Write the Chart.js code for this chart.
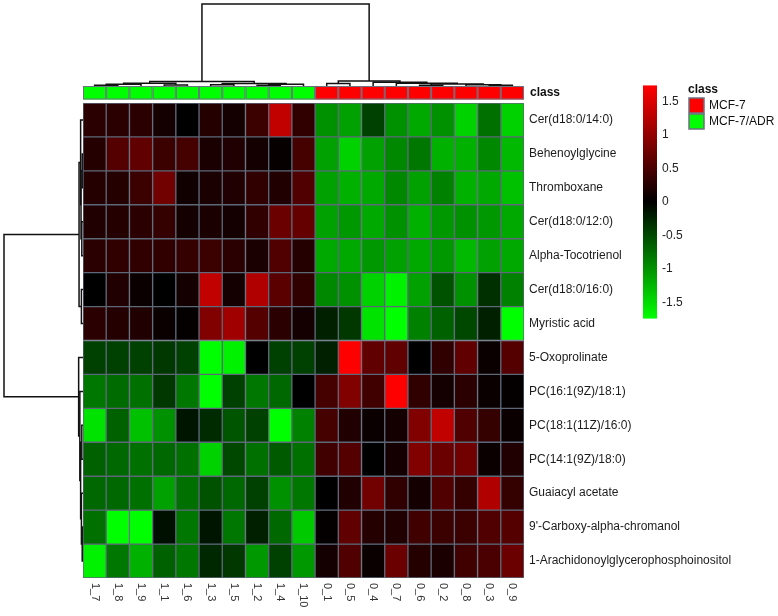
<!DOCTYPE html>
<html>
<head>
<meta charset="utf-8">
<script src="https://cdn.jsdelivr.net/npm/chart.js@4.4.0/dist/chart.umd.min.js"></script>
<style>
  html, body { margin: 0; padding: 0; background: #fff; }
  canvas { display: block; }
</style>
</head>
<body>
<canvas id="heatmap" width="778" height="616"></canvas>
<script>
// Samples (column order after clustering)
const SAMPLES = ['1_7', '1_8', '1_9', '1_1', '1_6', '1_3', '1_5', '1_2', '1_4', '1_10',
                 '0_1', '0_5', '0_4', '0_7', '0_6', '0_2', '0_8', '0_3', '0_9'];
const SAMPLE_CLASS = ['MCF-7/ADR', 'MCF-7/ADR', 'MCF-7/ADR', 'MCF-7/ADR', 'MCF-7/ADR',
                      'MCF-7/ADR', 'MCF-7/ADR', 'MCF-7/ADR', 'MCF-7/ADR', 'MCF-7/ADR',
                      'MCF-7', 'MCF-7', 'MCF-7', 'MCF-7', 'MCF-7', 'MCF-7', 'MCF-7', 'MCF-7', 'MCF-7'];
const CLASSES = ['MCF-7', 'MCF-7/ADR'];

// Metabolites (row order after clustering)
const METABOLITES = ['Cer(d18:0/14:0)', 'Behenoylglycine', 'Thromboxane', 'Cer(d18:0/12:0)',
  'Alpha-Tocotrienol', 'Cer(d18:0/16:0)', 'Myristic acid', '5-Oxoprolinate',
  'PC(16:1(9Z)/18:1)', 'PC(18:1(11Z)/16:0)', 'PC(14:1(9Z)/18:0)', 'Guaiacyl acetate',
  "9'-Carboxy-alpha-chromanol", '1-Arachidonoylglycerophosphoinositol'];

// scaled values per metabolite, one entry per sample
const cer14   = [0.29, 0.29, 0.29, 0.14, 0, 0.25, 0.14, 0.40, 1.32, 0.33, -0.99, -1.10, -0.44, -0.99, -1.15, -0.99, -1.43, -0.77, -1.43];
const behenoy = [0.25, 0.58, 0.66, 0.40, 0.47, 0.18, 0.22, 0.14, 0.05, 0.47, -1.10, -1.43, -1.10, -0.93, -0.82, -1.21, -1.21, -0.93, -1.26];
const thrombo = [0.25, 0.25, 0.40, 0.77, 0.11, 0.18, 0.22, 0.33, 0.22, 0.55, -1.10, -1.21, -1.15, -0.93, -1.10, -0.88, -1.21, -1.15, -1.32];
const cer12   = [0.22, 0.25, 0.29, 0.36, 0.14, 0.18, 0.14, 0.33, 0.73, 0.69, -1.10, -1.04, -1.15, -0.99, -1.21, -1.04, -0.99, -1.04, -1.15];
const tocotri = [0.29, 0.33, 0.33, 0.33, 0.36, 0.40, 0.29, 0.18, 0.55, 0.25, -1.15, -1.15, -1.04, -1.10, -1.15, -1.04, -1.26, -1.10, -1.15];
const cer16   = [0, 0.22, 0.07, 0, 0.14, 1.32, 0.14, 1.21, 0.62, 0.33, -0.93, -0.99, -1.43, -1.65, -1.10, -0.55, -0.99, -0.33, -0.88];
const myristi = [0.29, 0.25, 0.22, 0.07, 0.03, 0.88, 1.10, 0.58, 0.29, 0.14, -0.22, -0.38, -1.54, -1.75, -0.88, -0.66, -0.49, -0.22, -1.75];
const oxoprol = [-0.44, -0.44, -0.44, -0.38, -0.44, -1.75, -1.65, 0, -0.44, -0.44, -0.22, 1.75, 0.66, 0.66, 0, 0.33, 0.66, 0.07, 0.58];
const pc16    = [-0.82, -0.73, -0.77, -0.38, -0.82, -1.75, -0.44, -0.82, -0.71, 0, 0.47, 0.88, 0.44, 1.75, 0.33, 0.14, 0.29, 0.07, 0.03];
const pc18    = [-1.54, -0.66, -1.32, -0.99, -0.14, -0.29, -0.58, -0.44, -1.75, -0.88, 0.47, 0.22, 0.07, 0.14, 0.88, 1.32, 0.55, 0.36, 0.07];
const pc14    = [-0.66, -0.71, -0.77, -0.71, -0.77, -1.43, -0.49, -0.77, -0.62, -0.77, 0.44, 0.58, 0, 0.14, 0.88, 0.73, 0.77, 0.07, 0.22];
const guaiacy = [-0.71, -0.71, -0.77, -1.10, -0.77, -0.55, -0.71, -0.44, -0.99, -0.82, 0, 0.22, 0.77, 0.33, 0.14, 0.55, 0.36, 1.21, 0.36];
const chroman = [-0.77, -1.75, -1.75, -0.11, -0.82, -0.14, -0.82, -0.22, -0.71, -1.37, 0.03, 0.66, 0.25, 0.22, 0.44, 0.40, 0.40, 0.55, 0.58];
const arachid = [-1.65, -0.82, -1.21, -0.66, -0.82, -0.27, -0.38, -1.04, -0.44, -1.04, 0.14, 0.55, 0.07, 0.73, 0.25, 0.18, 0.44, 0.51, 0.73];
const ROWS = [cer14, behenoy, thrombo, cer12, tocotri, cer16, myristi,
              oxoprol, pc16, pc18, pc14, guaiacy, chroman, arachid];

// colour key
const KEY_TICKS = [1.5, 1, 0.5, 0, -0.5, -1, -1.5];
const Z_MAX = 1.74;

// dendrograms: [height, left, right], leaves are column / row indices
const COL_TREE = [10,
  [0.55, [0.35, [0.2, [0.1, 0, 1], 2], [0.12, 3, 4]], [0.3, [0.15, 5, 6], [0.2, [0.1, 7, 8], 9]]],
  [0.6, [0.3, 10, 11], [0.45, 12, [0.35, 13, [0.25, [0.1, 14, 15], [0.15, 16, [0.08, 17, 18]]]]]]];
const ROW_TREE = [10,
  [0.5, [0.3, 0, [0.25, [0.1, 1, 2], [0.15, 3, 4]]], [0.2, 5, 6]],
  [0.55, 7, [0.4, 8, [0.3, [0.15, 9, 10], [0.2, 11, [0.1, 12, 13]]]]]];

const CLASS_COLORS = { 'MCF-7': '#ff0000', 'MCF-7/ADR': '#00ff00' };
const FONT = '"Liberation Sans", Arial, sans-serif';

function heatColor(v) {
    const c = Math.round(255 * Math.min(1, Math.abs(v) / Z_MAX));
    return v >= 0 ? `rgb(${c},0,0)` : `rgb(0,${c},0)`;
}

// extra drawing: class bar, dendrograms, column labels, colour key, class legend
const decorPlugin = {
    id: 'decor',
    afterDraw(chart) {
        const { ctx, chartArea: area, scales } = chart;
        const x = scales.x, y = scales.y;
        const colW = x.getPixelForValue(1) - x.getPixelForValue(0);
        ctx.save();

        // class annotation bar
        const cbTop = 86, cbH = 13.5;
        SAMPLE_CLASS.forEach((cls, i) => {
            const left = x.getPixelForValue(i) - colW / 2;
            ctx.fillStyle = CLASS_COLORS[cls];
            ctx.fillRect(left, cbTop, colW, cbH);
            ctx.strokeStyle = '#6b7280';
            ctx.lineWidth = 1;
            ctx.strokeRect(left + 0.5, cbTop + 0.5, colW - 1, cbH - 1);
        });
        ctx.fillStyle = '#111';
        ctx.font = 'bold 12px ' + FONT;
        ctx.textAlign = 'left';
        ctx.textBaseline = 'middle';
        ctx.fillText('class', area.right + 6, cbTop + cbH / 2);

        // column labels, rotated clockwise
        ctx.font = '11px ' + FONT;
        ctx.fillStyle = '#333';
        SAMPLES.forEach((s, i) => {
            ctx.save();
            ctx.translate(x.getPixelForValue(i), area.bottom + 5);
            ctx.rotate(Math.PI / 2);
            ctx.fillText(s, 0, 0);
            ctx.restore();
        });

        // dendrograms
        ctx.strokeStyle = '#111';
        ctx.lineWidth = 1.5;
        const colBase = cbTop, colK = 8.2;
        function drawCol(node) {
            if (typeof node === 'number') return { p: x.getPixelForValue(node), d: colBase };
            const a = drawCol(node[1]), b = drawCol(node[2]);
            const yy = colBase - node[0] * colK;
            ctx.beginPath();
            ctx.moveTo(a.p, a.d); ctx.lineTo(a.p, yy); ctx.lineTo(b.p, yy); ctx.lineTo(b.p, b.d);
            ctx.stroke();
            return { p: (a.p + b.p) / 2, d: yy };
        }
        const rowBase = area.left, rowK = 7.9;
        function drawRow(node) {
            if (typeof node === 'number') return { p: y.getPixelForValue(node + 0.5), d: rowBase };
            const a = drawRow(node[1]), b = drawRow(node[2]);
            const xx = rowBase - node[0] * rowK;
            ctx.beginPath();
            ctx.moveTo(a.d, a.p); ctx.lineTo(xx, a.p); ctx.lineTo(xx, b.p); ctx.lineTo(b.d, b.p);
            ctx.stroke();
            return { p: (a.p + b.p) / 2, d: xx };
        }
        drawCol(COL_TREE);
        drawRow(ROW_TREE);

        // colour key
        const keyX = 643, keyW = 14, keyMid = 202, keyK = 67;
        const keyY = v => keyMid - v * keyK;
        const top = keyY(Z_MAX), bot = keyY(-Z_MAX);
        const grad = ctx.createLinearGradient(0, top, 0, bot);
        grad.addColorStop(0, '#ff0000');
        grad.addColorStop(0.5, '#000000');
        grad.addColorStop(1, '#00ff00');
        ctx.fillStyle = grad;
        ctx.fillRect(keyX, top, keyW, bot - top);
        ctx.font = '12px ' + FONT;
        ctx.fillStyle = '#222';
        KEY_TICKS.forEach(t => ctx.fillText(String(t), keyX + keyW + 5, keyY(t)));

        // class legend
        const lgX = 689, lgY = 98, box = 15;
        ctx.font = 'bold 12px ' + FONT;
        ctx.fillStyle = '#111';
        ctx.fillText('class', lgX - 1, lgY - 8);
        ctx.font = '12px ' + FONT;
        CLASSES.forEach((cls, i) => {
            const by = lgY + i * (box + 1);
            ctx.fillStyle = CLASS_COLORS[cls];
            ctx.fillRect(lgX, by, box, box);
            ctx.strokeStyle = '#6b7280';
            ctx.lineWidth = 1.5;
            ctx.strokeRect(lgX, by, box, box);
            ctx.fillStyle = '#111';
            ctx.fillText(cls, lgX + box + 5, by + box / 2);
        });

        ctx.restore();
    }
};

new Chart(document.getElementById('heatmap'), {
    type: 'bar',
    data: {
        labels: SAMPLES,
        datasets: ROWS.map((vals, r) => ({
            label: METABOLITES[r],
            data: SAMPLES.map(() => [r, r + 1]),
            backgroundColor: c => heatColor(vals[c.dataIndex]),
            borderColor: '#5d6878',
            borderWidth: 1,
            borderSkipped: false,
            grouped: false,
            barPercentage: 1,
            categoryPercentage: 1
        }))
    },
    options: {
        responsive: false,
        animation: false,
        layout: { padding: { left: 83, top: 103, right: 0, bottom: 38 } },
        plugins: { legend: { display: false }, tooltip: { enabled: false } },
        scales: {
            x: { display: false, offset: true },
            y: { display: false, min: 0, max: ROWS.length, reverse: true },
            rows: {
                axis: 'y',
                type: 'category',
                position: 'right',
                labels: METABOLITES,
                offset: true,
                grid: { display: false, drawTicks: false },
                border: { display: false },
                ticks: { autoSkip: false, padding: 5, color: '#1c1c1c', font: { family: FONT, size: 12 } },
                afterFit: s => { s.width = 254; }
            }
        }
    },
    plugins: [decorPlugin]
});
</script>
</body>
</html>
